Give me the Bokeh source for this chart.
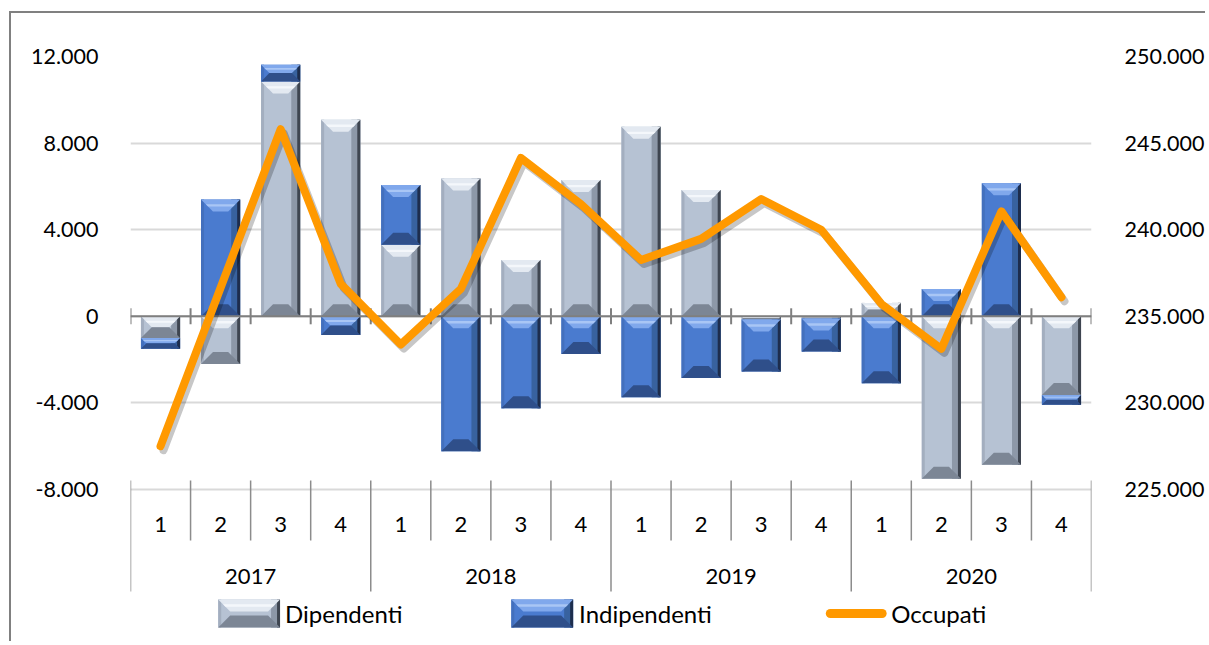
from bokeh.plotting import figure
from bokeh.models import Range1d, LinearAxis, FixedTicker
from bokeh.core.properties import value
from bokeh.embed import file_html
from bokeh.resources import INLINE

# ---------------- data ----------------
years = ["2017", "2018", "2019", "2020"]
quarters = ["1", "2", "3", "4"]
dipendenti = [-1000, -2200, 10850, 9080, 3300, 6370, 2600, 6290,
              8750, 5830, -150, -100, 620, -7500, -6860, -3630]
indipendenti = [-500, 5400, 770, -860, 2770, -6230, -4250, -1740,
                -3740, -2850, -2400, -1530, -3090, 1260, 6140, -450]
occupati = [227500, 236650, 245800, 236870, 233370, 236580, 244140, 241480,
            238250, 239470, 241770, 240000, 235720, 233120, 241060, 236100]
series_names = ["Dipendenti", "Indipendenti", "Occupati"]
left_ticks = [-8000, -4000, 0, 4000, 8000, 12000]
left_labels = ["-8.000", "-4.000", "0", "4.000", "8.000", "12.000"]
right_ticks = [225000, 230000, 235000, 240000, 245000, 250000]
right_labels = ["225.000", "230.000", "235.000", "240.000", "245.000", "250.000"]

# ---------------- layout (page pixels) ----------------
MARGIN_T, MARGIN_L, BORDER = 11, 9, 2
CANVAS_W, CANVAS_H = 1196, 630
ORIGIN_X, ORIGIN_Y = MARGIN_L + BORDER, MARGIN_T + BORDER
FRAME_L, FRAME_R, FRAME_T = 130, 1094, 56
LOW_PX = 489                      # page y of the lowest left tick
N = len(years) * len(quarters)
PXY = (LOW_PX - FRAME_T) / (left_ticks[-1] - left_ticks[0])
FRAME_H = CANVAS_H - (FRAME_T - ORIGIN_Y)
Y_END = left_ticks[-1]
Y_START = Y_END - FRAME_H / PXY
R_SCALE = (right_ticks[-1] - right_ticks[0]) / (left_ticks[-1] - left_ticks[0])
R_END = right_ticks[-1]
R_START = R_END - (Y_END - Y_START) * R_SCALE
PXX = (FRAME_R - FRAME_L) / N


def px_y(py):
    return Y_END - (py - FRAME_T) / PXY


def px_x(px):
    return (px - FRAME_L) / PXX


def dy(px):
    return px / PXY


def dx(px):
    return px / PXX


p = figure(width=CANVAS_W, height=CANVAS_H, output_backend="svg",
           toolbar_location=None, x_axis_location=None,
           x_range=Range1d(0, N), y_range=Range1d(Y_START, Y_END),
           min_border_left=FRAME_L - ORIGIN_X,
           min_border_right=CANVAS_W - (FRAME_R - ORIGIN_X),
           min_border_top=FRAME_T - ORIGIN_Y, min_border_bottom=0)
p.margin = (MARGIN_T, 0, 0, MARGIN_L)
p.styles = {"border-left": "2px solid #808080", "border-top": "2px solid #808080"}
p.outline_line_color = None
p.background_fill_color = "white"
p.border_fill_color = "white"
p.xgrid.visible = False
p.extra_y_ranges = {"right": Range1d(R_START, R_END)}

# left axis
ya = p.yaxis[0]
ya.ticker = FixedTicker(ticks=left_ticks)
ya.major_label_overrides = dict(zip(left_ticks, left_labels))
ya.axis_line_color = None
ya.major_tick_line_color = None
ya.minor_tick_line_color = None
ya.major_label_standoff = 26
ya.major_label_text_font = "Lato"
ya.major_label_text_font_size = "21.5px"
ya.major_label_text_color = "#000000"

ra = LinearAxis(y_range_name="right", ticker=FixedTicker(ticks=right_ticks))
ra.major_label_overrides = dict(zip(right_ticks, right_labels))
ra.axis_line_color = None
ra.major_tick_line_color = None
ra.minor_tick_line_color = None
ra.major_label_standoff = 27
ra.major_label_text_font = "Lato"
ra.major_label_text_font_size = "21.5px"
ra.major_label_text_color = "#000000"
p.add_layout(ra, "right")

p.ygrid.grid_line_color = "#d9d9d9"
p.ygrid.grid_line_width = 2

# ---------------- bevelled bars ----------------
PAL = {
    "Dipendenti": dict(front="#b6c2d3", left="#a3aebf", rgrad="#8d98a8", redge="#3e4550",
                       top="#e3e9f1", topedge="#f4f7fb", bottom="#7c8695"),
    "Indipendenti": dict(front="#4a7bcf", left="#4370bd", rgrad="#38629f", redge="#1d2d4d",
                         top="#80a8ec", topedge="#a9c6f5", bottom="#2f4f8a"),
}
xs_all, ys_all, col_all = [], [], []


def add_poly(xs, ys, c):
    xs_all.append(xs)
    ys_all.append(ys)
    col_all.append(c)


def bevel_box(xl, xr, yb, yt, pal):
    h_px = (yt - yb) * PXY
    w_px = (xr - xl) * PXX
    s_px = min(12.0, h_px / 2.0, w_px / 2.0)
    sv, sh = dy(s_px), dx(s_px)
    add_poly([xl, xr, xr, xl], [yb, yb, yt, yt], pal["front"])
    e = min(dx(3), (xr - xl) / 6)
    g = min(dx(9), (xr - xl) / 4)
    add_poly([xl, xl + e, xl + e, xl], [yb, yb, yt, yt], pal["left"])
    add_poly([xr - g, xr, xr, xr - g], [yb, yb, yt, yt], pal["rgrad"])
    add_poly([xr - e, xr, xr, xr - e], [yb, yb, yt, yt], pal["redge"])
    add_poly([xl, xr, xr - sh, xl + sh], [yt, yt, yt - sv, yt - sv], pal["top"])
    add_poly([xl + sh * 0.4, xr - sh * 0.4, xr - sh * 0.6, xl + sh * 0.6],
             [yt - sv * 0.4, yt - sv * 0.4, yt - sv * 0.6, yt - sv * 0.6], pal["topedge"])
    add_poly([xl, xr, xr - sh, xl + sh], [yb, yb, yb + sv, yb + sv], pal["bottom"])


BAR_W = 0.652
for i in range(N):
    pos, neg = 0.0, 0.0
    for name, vals in ((series_names[0], dipendenti), (series_names[1], indipendenti)):
        v = vals[i]
        if v >= 0:
            y0, y1 = pos, pos + v
            pos = y1
        else:
            y0, y1 = neg, neg + v
            neg = y1
        xc = i + 0.5
        bevel_box(xc - BAR_W / 2, xc + BAR_W / 2, min(y0, y1), max(y0, y1), PAL[name])

# legend swatches (drawn in the same bevel style)
bevel_box(px_x(218), px_x(280), px_y(627), px_y(599), PAL[series_names[0]])
bevel_box(px_x(512), px_x(574), px_y(627), px_y(599), PAL[series_names[1]])

p.patches(xs=xs_all, ys=ys_all, fill_color=col_all, line_color=None)

# ---------------- category axis drawn at zero ----------------
bounds = list(range(N + 1))
p.segment(x0=[0], y0=[0], x1=[N], y1=[0], line_color="#7f7f7f", line_width=2)
p.segment(x0=bounds, y0=[dy(8)] * len(bounds), x1=bounds, y1=[-dy(8)] * len(bounds),
          line_color="#7f7f7f", line_width=2)

# bottom category labels with separators
sep_long = [b for b in bounds if b % len(quarters) == 0]
sep_short = [b for b in bounds if b % len(quarters) != 0]
p.segment(x0=sep_short, y0=[px_y(480)] * len(sep_short), x1=sep_short,
          y1=[px_y(540)] * len(sep_short), line_color="#8c8c8c", line_width=1.5)
p.segment(x0=sep_long, y0=[px_y(480)] * len(sep_long), x1=sep_long,
          y1=[px_y(591)] * len(sep_long), line_color="#8c8c8c", line_width=1.5)
q_x = [i + 0.5 for i in range(N)]
q_t = [quarters[i % len(quarters)] for i in range(N)]
p.text(x=q_x, y=[px_y(524)] * N, text=q_t, text_font=value("Lato"),
       text_font_size="22px", text_align="center", text_baseline="middle",
       text_color="#000000")
y_x = [k * len(quarters) + len(quarters) / 2 for k in range(len(years))]
p.text(x=y_x, y=[px_y(576)] * len(years), text=years, text_font=value("Lato"),
       text_font_size="22px", text_align="center", text_baseline="middle",
       text_color="#000000")

# ---------------- Occupati line ----------------
lx = [i + 0.5 for i in range(N)]
p.line(x=[x + dx(3) for x in lx], y=[v - dy(4) * R_SCALE for v in occupati],
       y_range_name="right", line_color="#000000", line_alpha=0.22, line_width=8,
       line_join="round", line_cap="round")
p.line(x=lx, y=occupati, y_range_name="right", line_color="#ff9900", line_width=8,
       line_join="round", line_cap="round")

# legend line swatch
p.line(x=[px_x(832), px_x(884)], y=[px_y(613)] * 2, line_color="#ff9900",
       line_width=9, line_cap="round")

# legend labels
p.text(x=[px_x(285), px_x(580), px_x(893)], y=[px_y(613)] * 3, text=series_names,
       text_font=value("Lato"), text_font_size="24px", text_align="left",
       text_baseline="middle", text_color="#000000")

open("out.html", "w").write(file_html(p, INLINE))
